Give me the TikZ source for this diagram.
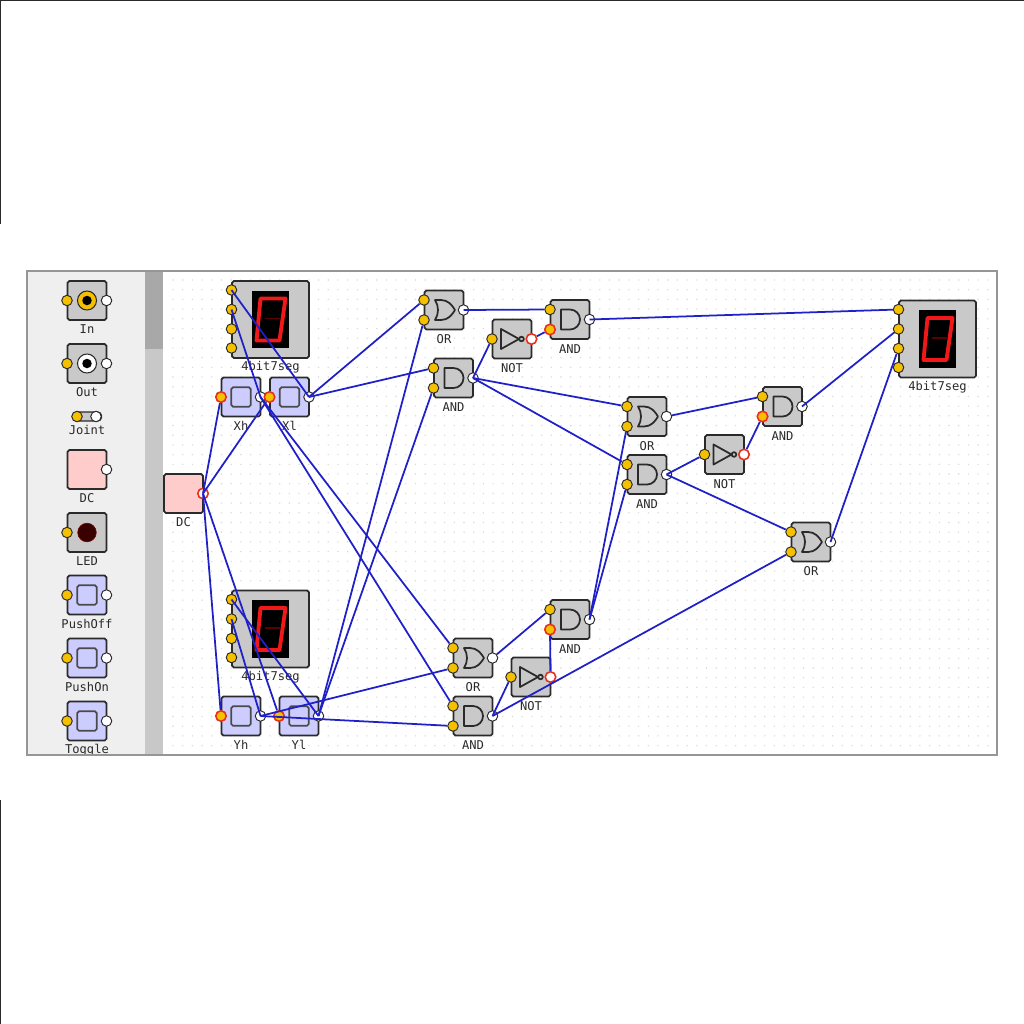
\documentclass[tikz,border=0pt]{standalone}
\usepackage{fontspec}
\setmonofont{DejaVu Sans Mono}
\definecolor{linedark}{HTML}{2A2A2A}
\definecolor{gatefill}{HTML}{C9C9C9}
\definecolor{switchfill}{HTML}{CCCCFF}
\definecolor{dcfill}{HTML}{FFCCCC}
\definecolor{pinyellow}{HTML}{F5C000}
\definecolor{ringred}{HTML}{E8301C}
\definecolor{wireblue}{HTML}{2020C8}
\definecolor{segred}{HTML}{F01818}
\definecolor{panelgray}{HTML}{EFEFEF}
\definecolor{scrollgray}{HTML}{C8C8C8}
\definecolor{thumbgray}{HTML}{A8A8A8}
\definecolor{framegray}{HTML}{969696}
\definecolor{dotgray}{HTML}{DADADA}
\tikzset{
  partbox/.style={draw=linedark, line width=1pt, rounded corners=1pt, inner sep=0pt,
    minimum width=0.78cm, minimum height=0.78cm},
  gatebox/.style={partbox, fill=gatefill},
  pinin/.style={circle, draw=linedark, fill=pinyellow, line width=0.55pt, inner sep=0pt, minimum size=0.21cm},
  pinout/.style={circle, draw=linedark, fill=white, line width=0.55pt, inner sep=0pt, minimum size=0.21cm},
  ringpin/.style={draw=ringred, line width=0.9pt},
  ringone/.style={}, ringtwo/.style={}, ringout/.style={},
  partlabel/.style={font=\ttfamily\fontsize{6.9}{8}\selectfont, text=linedark, inner sep=0pt},
  glyph/.style={draw=linedark, line width=1pt, line join=round},
  wire/.style={draw=wireblue, line width=1pt},
  andgate/.pic={
    \node[gatebox] (-box) at (0,0) {};
    \node[pinin] (-in1) at (-20,-10) {};
    \node[pinin, ringtwo] (-in2) at (-20,10) {};
    \node[pinout] (-out) at (19.5,0) {};
    \draw[glyph] (-9,-10) -- (0,-10) arc (-90:90:10) -- (-9,10) -- cycle;
    \node[partlabel] (-label) at (0,29.5) {AND};
  },
  orgate/.pic={
    \node[gatebox] (-box) at (0,0) {};
    \node[pinin] (-in1) at (-20,-10) {};
    \node[pinin] (-in2) at (-20,10) {};
    \node[pinout] (-out) at (19.5,0) {};
    \draw[glyph] (-9,-10) -- (-3,-10) .. controls (4,-10) and (8,-5) .. (11,0)
      .. controls (8,5) and (4,10) .. (-3,10) -- (-9,10)
      .. controls (-5,4) and (-5,-4) .. (-9,-10) -- cycle;
    \node[partlabel] (-label) at (0,29.5) {OR};
  },
  notgate/.pic={
    \node[gatebox] (-box) at (0,0) {};
    \node[pinin] (-in) at (-20,0) {};
    \node[pinout, ringpin] (-out) at (19.5,0) {};
    \draw[glyph] (-11,-10) -- (7,0) -- (-11,10) -- cycle;
    \draw[glyph] (9.5,0) circle (2.3);
    \node[partlabel] (-label) at (0,29.5) {NOT};
  },
  switchbox/.pic={
    \node[partbox, fill=switchfill] (-box) at (0,0) {};
    \node[partbox, draw=linedark!85, fill=switchfill, minimum width=0.39cm, minimum height=0.39cm] (-key) at (0,0) {};
    \node[pinin, ringone] (-in) at (-20,0) {};
    \node[pinout] (-out) at (19.5,0) {};
    \node[partlabel] (-label) at (0,29) {\tikzpictext};
  },
  dcbox/.pic={
    \node[partbox, fill=dcfill] (-box) at (0,0) {};
    \node[pinout, ringout] (-out) at (19.5,0) {};
    \node[partlabel] (-label) at (0,29) {DC};
  },
  jackbox/.pic={
    \node[gatebox] (-box) at (0,0) {};
    \node[pinin] (-in) at (-20,0) {};
    \node[pinout] (-out) at (19.5,0) {};
    \node[circle, draw=linedark, line width=0.6pt, jackring, inner sep=0pt, minimum size=0.38cm] (-ring) at (0,0) {};
    \node[circle, fill=black, inner sep=0pt, minimum size=0.19cm] (-hole) at (0,0) {};
    \node[partlabel] (-label) at (0,29) {\tikzpictext};
  },
  segdisplay/.pic={
    \node[partbox, fill=gatefill, minimum width=1.54cm, minimum height=1.54cm] (-box) at (0,0) {};
    \node[fill=black, inner sep=0pt, minimum width=0.74cm, minimum height=1.15cm] (-screen) at (0,0) {};
    \draw[draw=red!35!black, line width=0.8pt] (-6,-1) -- (9,-1);
    \draw[draw=segred, line width=2.2pt, line join=round] (-10,-21) -- (15,-21) -- (9,21) -- (-14,21) -- cycle;
    \node[pinin] (-in1) at (-39,-29.5) {};
    \node[pinin] (-in2) at (-39,-10) {};
    \node[pinin] (-in3) at (-39,9.5) {};
    \node[pinin] (-in4) at (-39,28.5) {};
    \node[partlabel] (-label) at (0,48) {4bit7seg};
  }
}
\begin{document}
\begin{tikzpicture}[x=0.02cm, y=-0.02cm]
  \useasboundingbox (0,0) rectangle (1024,1024);
  % outer marks
  \draw[linedark, line width=0.9pt] (0.7,224) -- (0.7,0.7) -- (1024,0.7);
  \draw[linedark, line width=0.9pt] (0.7,800) -- (0.7,1024);
  % window
  \fill[panelgray] (27,271) rectangle (145,755);
  \fill[scrollgray] (145,271) rectangle (163,755);
  \fill[thumbgray] (145,271) rectangle (163,349);
  \foreach \dotx in {0,...,84} {
    \foreach \doty in {0,...,48} {
      \fill[dotgray] (173+\dotx*9.7,280+\doty*9.7) circle (0.8);
    }
  }
  % palette
  \begin{scope}
    \clip (27,271) rectangle (145,755);
    \pic (palIn) [pic text=In, jackring/.style={fill=pinyellow}] at (87,300.5) {jackbox};
    \pic (palOut) [pic text=Out, jackring/.style={fill=white}] at (87,363.5) {jackbox};
    \node[draw=linedark, fill=gatefill, line width=0.6pt, rounded corners=2pt, inner sep=0pt,
      minimum width=0.58cm, minimum height=0.18cm] (palJoint) at (87,416.5) {};
    \node[pinin] (palJointIn) at (77,416.5) {};
    \node[pinout] (palJointOut) at (96,416.5) {};
    \node[partlabel] (palJointLabel) at (87,430) {Joint};
    \pic (palDC) at (87,469.5) {dcbox};
    \node[gatebox] (palLED) at (87,532.5) {};
    \node[pinin] (palLEDIn) at (67,532.5) {};
    \node[circle, draw=red!45!black, fill=red!22!black, inner sep=0pt, minimum size=0.37cm] (palLEDLamp) at (87,532.5) {};
    \node[partlabel] (palLEDLabel) at (87,561.5) {LED};
    \pic (palOff) [pic text=PushOff] at (87,595) {switchbox};
    \pic (palOn) [pic text=PushOn] at (87,658) {switchbox};
    \pic (palToggle) [pic text=Toggle] at (87,721) {switchbox};
  \end{scope}
  % inputs and displays
  \pic (dc) [ringout/.style={ringpin}] at (183.5,493.5) {dcbox};
  \pic (segX) at (270.5,319.5) {segdisplay};
  \pic (segY) at (270.5,629) {segdisplay};
  \pic (segOut) at (937.5,339) {segdisplay};
  \pic (xh) [pic text=Xh, ringone/.style={ringpin}] at (241,397) {switchbox};
  \pic (xl) [pic text=Xl, ringone/.style={ringpin}] at (289.5,397) {switchbox};
  \pic (yh) [pic text=Yh, ringone/.style={ringpin}] at (241,716) {switchbox};
  \pic (yl) [pic text=Yl, ringone/.style={ringpin}] at (299,716) {switchbox};
  % gates
  \pic (orA) at (444,310) {orgate};
  \pic (andA) at (453.5,378) {andgate};
  \pic (notA) at (512,339) {notgate};
  \pic (andB) [ringtwo/.style={ringpin}] at (570,319.5) {andgate};
  \pic (orB) at (647,416.5) {orgate};
  \pic (andC) at (647,474.5) {andgate};
  \pic (notB) at (724.5,454.5) {notgate};
  \pic (andD) [ringtwo/.style={ringpin}] at (782.5,406.5) {andgate};
  \pic (orC) at (811,542) {orgate};
  \pic (orD) at (473,658) {orgate};
  \pic (andE) at (473,716) {andgate};
  \pic (notC) at (531,677) {notgate};
  \pic (andF) [ringtwo/.style={ringpin}] at (570,619.5) {andgate};
  % wires
  \draw[wire] (dc-out.center) -- (xh-in);
  \draw[wire] (dc-out.center) -- (xl-in);
  \draw[wire] (dc-out.center) -- (yh-in);
  \draw[wire] (dc-out.center) -- (yl-in);
  \draw[wire] (segX-in1.center) -- (xl-out.center);
  \draw[wire] (segX-in2.center) -- (xh-out.center);
  \draw[wire] (segY-in1.center) -- (yl-out.center);
  \draw[wire] (segY-in2.center) -- (yh-out.center);
  \draw[wire] (xl-out.center) -- (orA-in1);
  \draw[wire] (xl-out.center) -- (andA-in1);
  \draw[wire] (yl-out.center) -- (orA-in2);
  \draw[wire] (yl-out.center) -- (andA-in2);
  \draw[wire] (xh-out.center) -- (orD-in1);
  \draw[wire] (xh-out.center) -- (andE-in1);
  \draw[wire] (yh-out.center) -- (orD-in2);
  \draw[wire] (yh-out.center) -- (andE-in2);
  \draw[wire] (orA-out.center) -- (andB-in1);
  \draw[wire] (andA-out.center) -- (notA-in);
  \draw[wire] (notA-out) -- (andB-in2);
  \draw[wire] (andB-out.center) -- (segOut-in1);
  \draw[wire] (andA-out.center) -- (orB-in1);
  \draw[wire] (andA-out.center) -- (andC-in1);
  \draw[wire] (orB-out) -- (andD-in1);
  \draw[wire] (andC-out.center) -- (notB-in);
  \draw[wire] (notB-out) -- (andD-in2);
  \draw[wire] (andC-out.center) -- (orC-in1);
  \draw[wire] (andD-out.center) -- (segOut-in2);
  \draw[wire] (orC-out.center) -- (segOut-in3);
  \draw[wire] (orD-out) -- (andF-in1);
  \draw[wire] (andE-out.center) -- (notC-in);
  \draw[wire] (notC-out) -- (andF-in2);
  \draw[wire] (andE-out.center) -- (orC-in2);
  \draw[wire] (andF-out.center) -- (orB-in2);
  \draw[wire] (andF-out.center) -- (andC-in2);
  % frame
  \draw[framegray, line width=0.9pt] (27,271) rectangle (997,755);
\end{tikzpicture}
\end{document}
